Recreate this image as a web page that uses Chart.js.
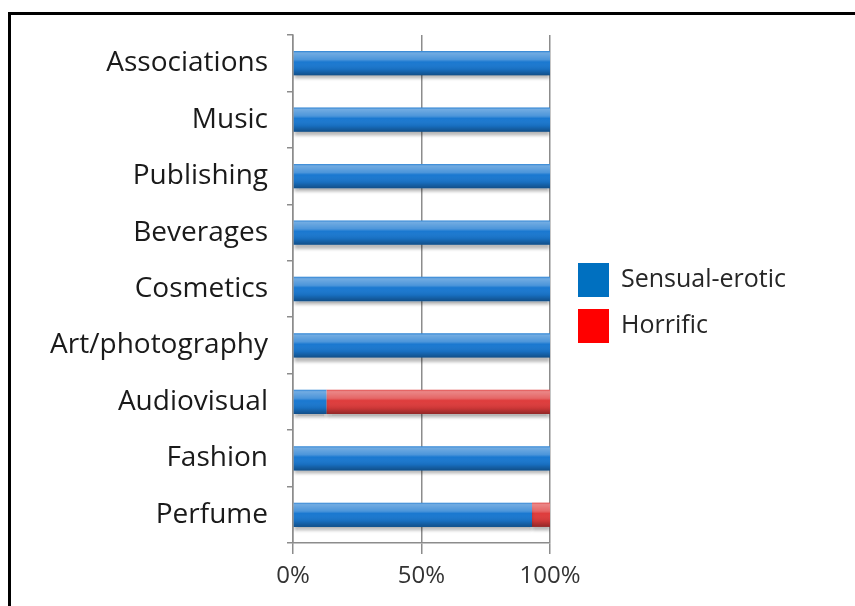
<!DOCTYPE html>
<html lang="en">
    <head>
        <meta charset="UTF-8" />
        <title>Advertising appeals by sector</title>
        <script src="https://cdn.jsdelivr.net/npm/chart.js"></script>
        <style>
            html, body { margin: 0; padding: 0; background: #fff; overflow: hidden; }
            #frame {
                position: absolute; left: 8px; top: 12px;
                width: 900px; height: 700px;
                border-left: 3px solid #000; border-top: 3px solid #000;
            }
            #wrap { position: absolute; left: 0; top: 0; width: 844px; height: 591px; }
        </style>
    </head>
    <body>
        <div id="frame">
            <div id="wrap"><canvas id="appealChart"></canvas></div>
        </div>
        <script>
            const sectors = ["Associations", "Music", "Publishing", "Beverages", "Cosmetics",
                "Art/photography", "Audiovisual", "Fashion", "Perfume"];
            const sensualErotic = [100, 100, 100, 100, 100, 100, 13, 100, 93];
            const horrific = [0, 0, 0, 0, 0, 0, 87, 0, 7];
            const xTicks = [0, 50, 100];
            const legendColors = ["#0070c0", "#ff0000"];

            // glossy 3D look on top of the plain bars
            const glossPlugin = {
                id: "gloss",
                beforeDatasetsDraw(chart) {
                    const ctx = chart.ctx;
                    ctx.save();
                    ctx.shadowColor = "rgba(0,0,0,0.28)";
                    ctx.shadowOffsetY = 4;
                    ctx.shadowBlur = 3;
                },
                afterDatasetsDraw(chart) {
                    const ctx = chart.ctx;
                    ctx.restore();
                    chart.data.datasets.forEach((ds, i) => {
                        const meta = chart.getDatasetMeta(i);
                        meta.data.forEach((bar) => {
                            const p = bar.getProps(["x", "y", "base", "height"], true);
                            const left = Math.min(p.x, p.base);
                            const w = Math.abs(p.x - p.base);
                            if (w < 0.5) return;
                            const top = p.y - p.height / 2;
                            const g = ctx.createLinearGradient(0, top, 0, top + p.height);
                            g.addColorStop(0, "rgba(255,255,255,0.10)");
                            g.addColorStop(0.08, "rgba(255,255,255,0.38)");
                            g.addColorStop(0.35, "rgba(255,255,255,0.22)");
                            g.addColorStop(0.45, "rgba(255,255,255,0)");
                            g.addColorStop(0.75, "rgba(0,0,0,0.08)");
                            g.addColorStop(1, "rgba(0,0,0,0.35)");
                            ctx.fillStyle = g;
                            ctx.fillRect(left, top, w, p.height);
                        });
                    });
                },
            };

            // legend to the right of the plot, the built-in one gets squeezed
            const sideLegend = {
                id: "sideLegend",
                afterDraw(chart) {
                    const ctx = chart.ctx;
                    const area = chart.chartArea;
                    const x = area.right + 28;
                    let y = (area.top + area.bottom) / 2 - 26;
                    ctx.save();
                    ctx.font = "25px 'Open Sans'";
                    ctx.textBaseline = "middle";
                    chart.data.datasets.forEach((ds, i) => {
                        ctx.fillStyle = legendColors[i];
                        ctx.fillRect(x, y, 31, 34);
                        ctx.fillStyle = "#262626";
                        ctx.fillText(ds.label, x + 43, y + 17);
                        y += 46;
                    });
                    ctx.restore();
                },
            };

            const ctx = document.getElementById("appealChart").getContext("2d");
            const chart = new Chart(ctx, {
                type: "bar",
                data: {
                    labels: sectors,
                    datasets: [
                        {
                            label: "Sensual-erotic",
                            data: sensualErotic,
                            backgroundColor: "#1a78d0",
                            borderWidth: 0,
                            barPercentage: 0.43,
                            categoryPercentage: 1,
                        },
                        {
                            label: "Horrific",
                            data: horrific,
                            backgroundColor: "#de3c3c",
                            borderWidth: 0,
                            barPercentage: 0.43,
                            categoryPercentage: 1,
                        },
                    ],
                },
                options: {
                    indexAxis: "y",
                    responsive: true,
                    maintainAspectRatio: false,
                    animation: false,
                    layout: { padding: { top: 20, bottom: 15, left: 0, right: 305 } },
                    plugins: {
                        tooltip: { enabled: false },
                        legend: { display: false },
                    },
                    scales: {
                        x: {
                            stacked: true,
                            min: 0,
                            max: 100,
                            afterBuildTicks: (s) => {
                                s.ticks = xTicks.map((v) => ({ value: v }));
                            },
                            afterFit: (s) => {
                                s.height = 48;
                                s.paddingLeft = 0;
                                s.paddingRight = 0;
                            },
                            ticks: {
                                padding: 8,
                                color: "#333333",
                                font: { family: "'Open Sans'", size: 24 },
                                callback: (v) => v + "%",
                            },
                            grid: { color: "#8c8c8c", lineWidth: 1.5, tickLength: 11 },
                            border: { color: "#8c8c8c", width: 1.5 },
                        },
                        y: {
                            stacked: true,
                            afterFit: (s) => {
                                s.width = 282;
                                s.paddingTop = 0;
                                s.paddingBottom = 0;
                            },
                            ticks: {
                                padding: 19,
                                color: "#1a1a1a",
                                font: { family: "'Open Sans'", size: 28 },
                            },
                            grid: { drawOnChartArea: false, color: "#8c8c8c", lineWidth: 1.5, tickLength: 6 },
                            border: { color: "#8c8c8c", width: 1.5 },
                        },
                    },
                },
                plugins: [glossPlugin, sideLegend],
            });
        </script>
    </body>
</html>
